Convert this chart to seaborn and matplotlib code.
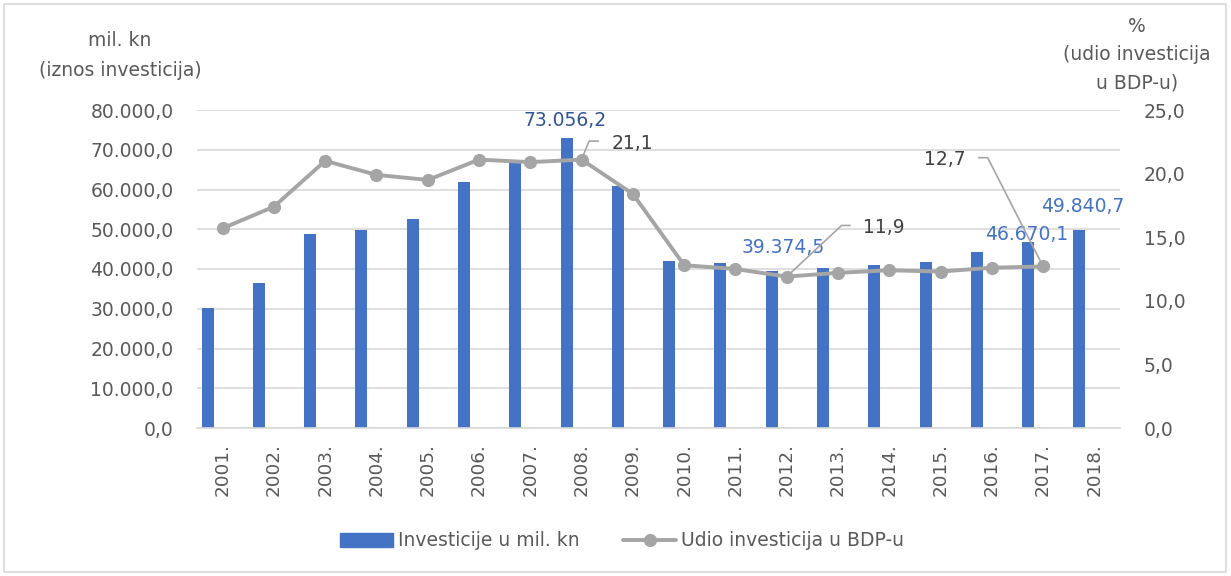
import numpy as np
import pandas as pd
import matplotlib
matplotlib.use("Agg")
import matplotlib.pyplot as plt
from matplotlib.patches import Rectangle
from matplotlib.lines import Line2D
from matplotlib.patches import Patch
import seaborn as sns

# ---------------- data ----------------
years = ["2001.", "2002.", "2003.", "2004.", "2005.", "2006.", "2007.", "2008.", "2009.",
         "2010.", "2011.", "2012.", "2013.", "2014.", "2015.", "2016.", "2017.", "2018."]
investicije = [30200, 36500, 48800, 49800, 52600, 62000, 66800, 73056.2, 60900,
               41900, 41500, 39374.5, 40300, 41000, 41700, 44200, 46670.1, 49840.7]
udio = [15.7, 17.4, 21.0, 19.9, 19.5, 21.1, 20.9, 21.1, 18.4,
        12.8, 12.5, 11.9, 12.2, 12.4, 12.3, 12.6, 12.7]
bar_series = "Investicije u mil. kn"
line_series = "Udio investicija u BDP-u"
left_ticks = [0, 10000, 20000, 30000, 40000, 50000, 60000, 70000, 80000]
right_ticks = [0, 5, 10, 15, 20, 25]
left_title = ["mil. kn", "(iznos investicija)"]
right_title = ["%", "(udio investicija", "u BDP-u)"]

# labelled points (index into years)
bar_labels = {7: "73.056,2", 11: "39.374,5", 16: "46.670,1", 17: "49.840,7"}
line_labels = {7: "21,1", 11: "11,9", 16: "12,7"}

BLUE = "#4472C4"
GREY = "#A5A5A5"
TXT = "#595959"
GRID = "#D9D9D9"
FS = 13.5

def fmt_hr(v, dec=1):
    s = f"{v:,.{dec}f}"
    return s.replace(",", "X").replace(".", ",").replace("X", ".")

sns.set_theme(style="white")
plt.rcParams["font.family"] = ["DejaVu Sans"]

fig = plt.figure(figsize=(12.31, 5.76), dpi=100)
ax = fig.add_axes([197/1231, 1-428/576, (1120-197)/1231, (428-110)/576])

df_bar = pd.DataFrame({"godina": years, "iznos": investicije, "serija": bar_series})
sns.barplot(data=df_bar, x="godina", y="iznos", hue="serija",
            hue_order=[bar_series, "_prazno"], palette=[BLUE, BLUE], saturation=1,
            width=1.17, gap=0.6, dodge=True, legend=False, ax=ax,
            linewidth=0, zorder=2)

ax.set_ylim(0, 80000)
ax.set_yticks(left_ticks)
ax.set_yticklabels([fmt_hr(t) for t in left_ticks])
ax.set_xlim(-0.5, len(years) - 0.5)
ax.grid(axis="y", color=GRID, linewidth=1.2, zorder=0)
ax.set_axisbelow(True)
for s in ["top", "right", "left"]:
    ax.spines[s].set_visible(False)
ax.spines["bottom"].set_color(GRID)
ax.spines["bottom"].set_linewidth(1.2)
ax.tick_params(axis="y", length=0, pad=17, labelsize=FS, labelcolor=TXT)
ax.tick_params(axis="x", length=0, pad=11, labelsize=FS - 0.3, labelcolor=TXT, labelrotation=90)
ax.set_xlabel("")
ax.set_ylabel("")

ax2 = ax.twinx()
xpos = np.arange(len(udio))
sns.lineplot(x=xpos, y=udio, ax=ax2, color=GREY, linewidth=2.8, marker="o",
             markersize=9.5, markeredgewidth=0, legend=False)
ax2.set_ylim(0, 25)
ax2.set_yticks(right_ticks)
ax2.set_yticklabels([fmt_hr(t) for t in right_ticks])
for s in ["top", "right", "left", "bottom"]:
    ax2.spines[s].set_visible(False)
ax2.tick_params(axis="y", length=0, pad=17, labelsize=FS, labelcolor=TXT)
ax2.set_ylabel("")
ax2.grid(False)

# bar value labels (offsets in pixels: text centre / baseline relative to bar top)
bar_offsets = {7: (-2, 12), 11: (11, 18.5), 16: (-1, 2.5), 17: (3.5, 18)}
bars = [p for p in ax.patches if p.get_height() > 0]
for i, txt in bar_labels.items():
    p = bars[i]
    xc = p.get_x() + p.get_width() / 2
    dx, dy = bar_offsets[i]
    col = "#2F5597" if i == 7 else BLUE
    ax.annotate(txt, (xc, investicije[i]), xytext=(dx, dy), textcoords="offset pixels",
                ha="center", va="baseline", fontsize=FS, color=col, zorder=5)

# line value labels with leader lines
line_cfg = {7: ((30, 10.7), "left", 68), 11: ((76.6, 43.4), "left", 43), 16: ((-77.6, 101), "right", 117)}
for i, txt in line_labels.items():
    (dx, dy), ha, angB = line_cfg[i]
    ax2.annotate(txt, (xpos[i], udio[i]), xytext=(dx, dy), textcoords="offset pixels",
                 ha=ha, va="baseline", fontsize=FS, color="#404040", zorder=6,
                 arrowprops=dict(arrowstyle="-", color=GREY, lw=1.2,
                                 relpos=(0, 0.62) if ha == "left" else (1, 0.62),
                                 shrinkA=7.2, shrinkB=0,
                                 connectionstyle=f"angle,angleA=0,angleB={angB},rad=0"))

# axis titles
for k, t in enumerate(left_title):
    fig.text(120/1231, 1 - (40 + 30*k)/576, t, ha="center", va="center", fontsize=FS, color=TXT)
for k, t in enumerate(right_title):
    fig.text(1137/1231, 1 - (27 + 28*k)/576, t, ha="center", va="center", fontsize=FS, color=TXT)

# legend
handles = [Patch(facecolor=BLUE, edgecolor=BLUE, label=bar_series),
           Line2D([0], [0], color=GREY, lw=2.8, marker="o", markersize=9.5,
                  markeredgewidth=0, label=line_series)]
fig.legend(handles=handles, loc="center", bbox_to_anchor=(622/1231, 1 - 541/576),
           ncol=2, frameon=False, fontsize=FS, handlelength=2.8, handleheight=0.7,
           handletextpad=0.25, columnspacing=2.35, labelcolor=TXT)

# outer border
fig.patches.append(Rectangle((4/1231, 4/576), 1222/1231, 568/576, transform=fig.transFigure,
                             fill=False, edgecolor=GRID, linewidth=1.2))

fig.savefig("out.png", dpi=100)
